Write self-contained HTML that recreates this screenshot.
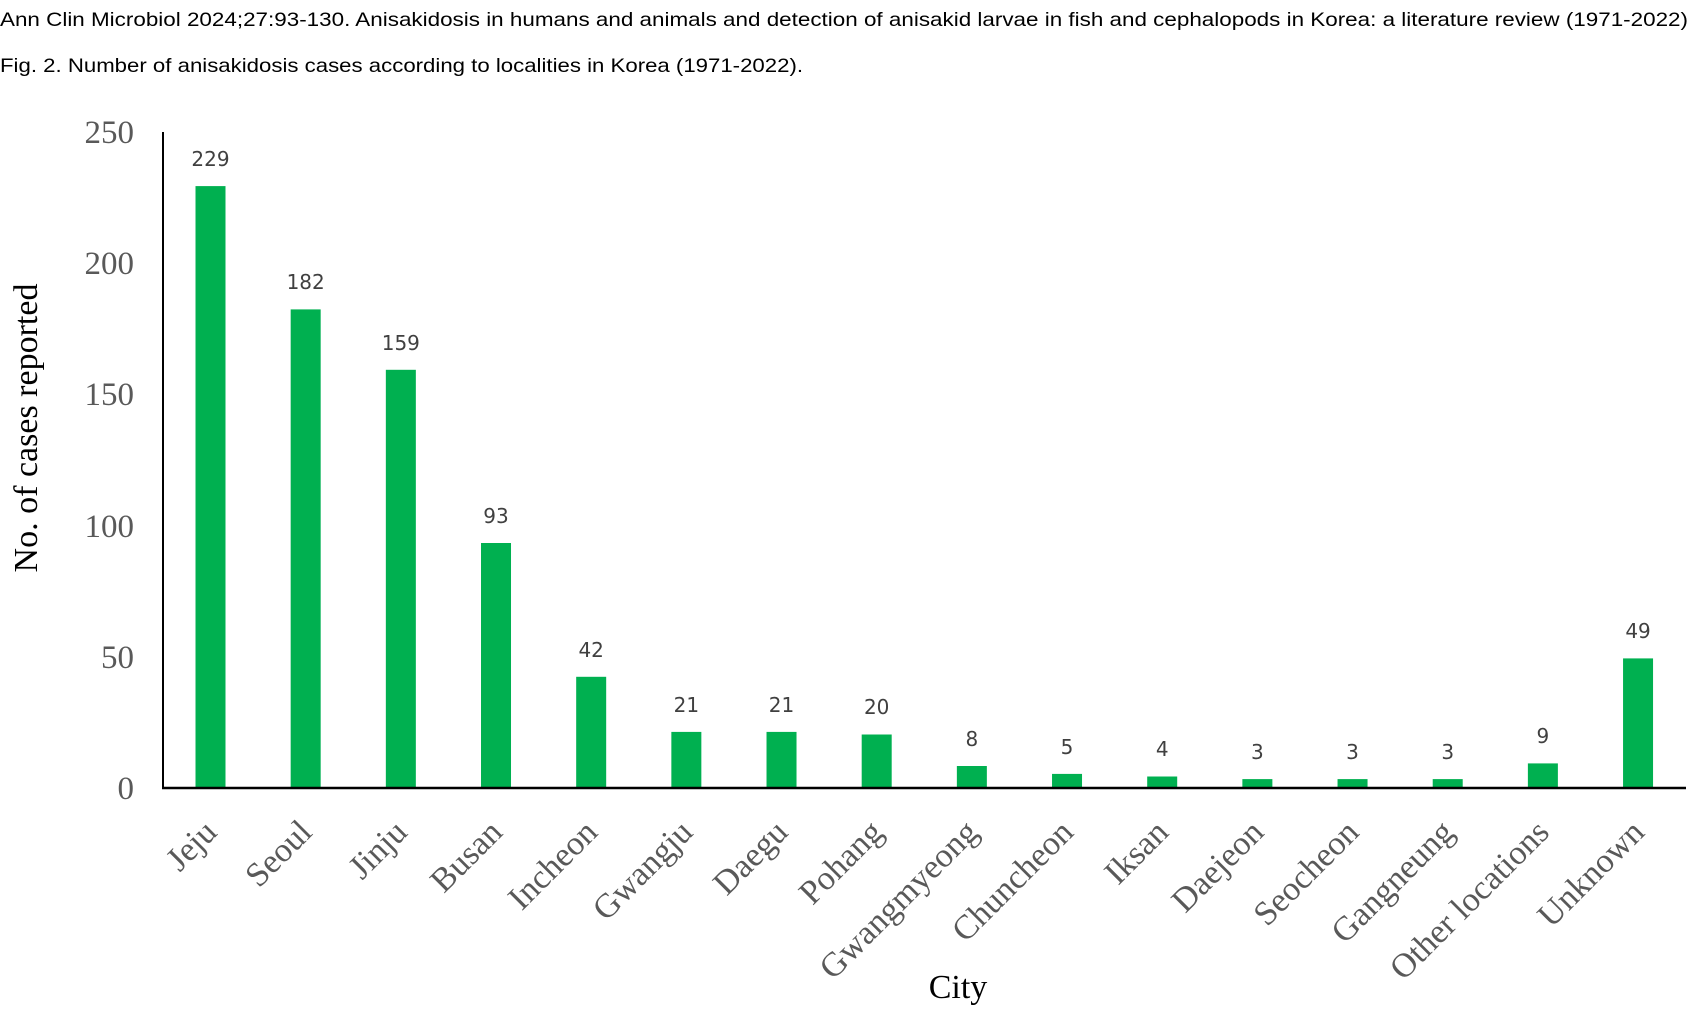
<!DOCTYPE html>
<html><head><meta charset="utf-8"><style>
html,body{margin:0;padding:0;background:#fff;width:1700px;height:1030px;overflow:hidden}
</style></head><body>
<svg width="1700" height="1030" xmlns="http://www.w3.org/2000/svg">
<text x="0" y="26" font-family="Liberation Sans, sans-serif" font-size="19.5" fill="#000" textLength="1688" lengthAdjust="spacingAndGlyphs">Ann Clin Microbiol 2024;27:93-130. Anisakidosis in humans and animals and detection of anisakid larvae in fish and cephalopods in Korea: a literature review (1971-2022)</text>
<text x="0" y="72" font-family="Liberation Sans, sans-serif" font-size="19.5" fill="#000" textLength="803" lengthAdjust="spacingAndGlyphs">Fig. 2. Number of anisakidosis cases according to localities in Korea (1971-2022).</text>
<g font-family="Liberation Serif, serif" font-size="33" fill="#595959" text-anchor="end">
<text x="134" y="143">250</text>
<text x="134" y="274">200</text>
<text x="134" y="405">150</text>
<text x="134" y="537">100</text>
<text x="134" y="668">50</text>
<text x="134" y="799">0</text>
</g>
<text transform="translate(37,428) rotate(-90)" text-anchor="middle" font-family="Liberation Serif, serif" font-size="34" fill="#000">No. of cases reported</text>
<text x="958" y="998" text-anchor="middle" font-family="Liberation Serif, serif" font-size="34" fill="#000">City</text>
<g fill="#00B050">
<rect x="195.5" y="186.1" width="30" height="600.9"/>
<rect x="290.67" y="309.4" width="30" height="477.6"/>
<rect x="385.84" y="369.8" width="30" height="417.2"/>
<rect x="481.01" y="543.0" width="30" height="244.0"/>
<rect x="576.18" y="676.8" width="30" height="110.2"/>
<rect x="671.35" y="731.9" width="30" height="55.1"/>
<rect x="766.52" y="731.9" width="30" height="55.1"/>
<rect x="861.69" y="734.5" width="30" height="52.5"/>
<rect x="956.86" y="766.0" width="30" height="21.0"/>
<rect x="1052.03" y="773.9" width="30" height="13.1"/>
<rect x="1147.2" y="776.5" width="30" height="10.5"/>
<rect x="1242.37" y="779.1" width="30" height="7.9"/>
<rect x="1337.54" y="779.1" width="30" height="7.9"/>
<rect x="1432.71" y="779.1" width="30" height="7.9"/>
<rect x="1527.88" y="763.4" width="30" height="23.6"/>
<rect x="1623.05" y="658.4" width="30" height="128.6"/>
</g>
<line x1="163" y1="132" x2="163" y2="789" stroke="#000" stroke-width="2"/>
<line x1="162" y1="788" x2="1686" y2="788" stroke="#000" stroke-width="2.5"/>
<g font-family="DejaVu Sans, Liberation Sans, sans-serif" font-size="20" fill="#404040" text-anchor="middle">
<text x="210.5" y="166">229</text>
<text x="305.67" y="289">182</text>
<text x="400.84" y="350">159</text>
<text x="496.01" y="523">93</text>
<text x="591.18" y="657">42</text>
<text x="686.35" y="712">21</text>
<text x="781.52" y="712">21</text>
<text x="876.69" y="714">20</text>
<text x="971.86" y="746">8</text>
<text x="1067.03" y="754">5</text>
<text x="1162.2" y="756">4</text>
<text x="1257.37" y="759">3</text>
<text x="1352.54" y="759">3</text>
<text x="1447.71" y="759">3</text>
<text x="1542.88" y="743">9</text>
<text x="1638.05" y="638">49</text>
</g>
<g font-family="Liberation Serif, serif" font-size="34" fill="#595959" text-anchor="end">
<text transform="translate(218.5,834) rotate(-45)">Jeju</text>
<text transform="translate(313.67,834) rotate(-45)">Seoul</text>
<text transform="translate(408.84,834) rotate(-45)">Jinju</text>
<text transform="translate(504.01,834) rotate(-45)">Busan</text>
<text transform="translate(599.18,834) rotate(-45)">Incheon</text>
<text transform="translate(694.35,834) rotate(-45)">Gwangju</text>
<text transform="translate(789.52,834) rotate(-45)">Daegu</text>
<text transform="translate(884.69,834) rotate(-45)">Pohang</text>
<text transform="translate(979.86,834) rotate(-45)">Gwangmyeong</text>
<text transform="translate(1075.03,834) rotate(-45)">Chuncheon</text>
<text transform="translate(1170.2,834) rotate(-45)">Iksan</text>
<text transform="translate(1265.37,834) rotate(-45)">Daejeon</text>
<text transform="translate(1360.54,834) rotate(-45)">Seocheon</text>
<text transform="translate(1455.71,834) rotate(-45)">Gangneung</text>
<text transform="translate(1550.88,834) rotate(-45)">Other locations</text>
<text transform="translate(1646.05,834) rotate(-45)">Unknown</text>
</g>
</svg>
</body></html>
